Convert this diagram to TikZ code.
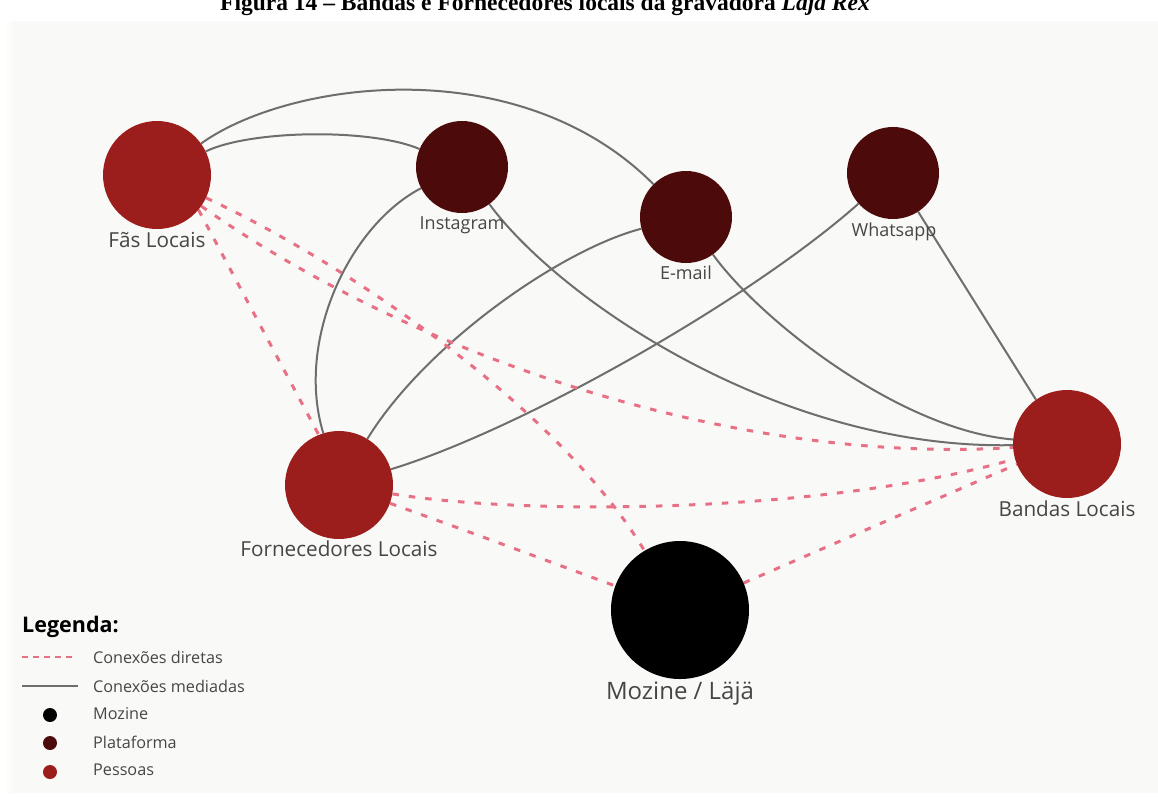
\documentclass[tikz,border=0pt]{standalone}
\usepackage{fontspec}
\setmainfont{Open Sans}
\newfontfamily\titlefont{Liberation Serif}
\definecolor{pessoa}{RGB}{155,30,28}
\definecolor{plataf}{RGB}{77,10,10}
\definecolor{dashpink}{RGB}{232,112,132}
\definecolor{linegrey}{RGB}{110,110,110}
\definecolor{panel}{RGB}{249,249,247}
\definecolor{labelgrey}{RGB}{70,70,70}
\pgfdeclarelayer{bg}
\pgfdeclarelayer{edges}
\pgfsetlayers{bg,edges,main}
\tikzset{
  pnode/.style={circle, fill=pessoa, inner sep=0pt, minimum size=108pt},
  platnode/.style={circle, fill=plataf, inner sep=0pt, minimum size=92pt},
  moznode/.style={circle, fill=black, inner sep=0pt, minimum size=138pt},
  lbl/.style={anchor=base, text=labelgrey, inner sep=0pt, font=\fontsize{20.7}{22}\selectfont},
  plbl/.style={lbl, font=\fontsize{18}{20}\selectfont},
  direct/.style={draw=dashpink, line width=3pt, dash pattern=on 6.5pt off 10pt},
  mediated/.style={draw=linegrey, line width=2pt},
  legtxt/.style={anchor=west, text=labelgrey, inner sep=0pt, font=\fontsize{16.2}{18}\selectfont},
  legdot/.style={circle, inner sep=0pt, minimum size=14pt},
}
\begin{document}
\begin{tikzpicture}[x=1pt,y=-1pt]
\useasboundingbox (0,0) rectangle (1158,796);
\clip (0,0) rectangle (1158,796);
\begin{pgfonlayer}{bg}
  \fill[panel] (10,21) rectangle (1158,793);
  \shade[left color=white, right color=panel] (4,21) rectangle (14,793);
\end{pgfonlayer}

% title (cut at the top)
\node (title) [anchor=base, inner sep=0pt, font=\titlefont\bfseries\fontsize{23.5}{25}\selectfont] at (545,10)
  {Figura 14 – Bandas e Fornecedores locais da gravadora \textit{Läjä Rex}};

% nodes
\node (fas) [pnode] at (157,175) {};
\node (forn) [pnode] at (339,485) {};
\node (bandas) [pnode] at (1067,444) {};
\node (insta) [platnode] at (462,167) {};
\node (email) [platnode] at (686,217) {};
\node (whats) [platnode] at (893,173) {};
\node (moz) [moznode] at (680,610) {};

% labels
\node (fasL) [lbl] at (157,247) {Fãs Locais};
\node (fornL) [lbl] at (339,556) {Fornecedores Locais};
\node (bandasL) [lbl] at (1067,516) {Bandas Locais};
\node (instaL) [plbl] at (462,229) {Instagram};
\node (emailL) [plbl] at (686,279) {E-mail};
\node (whatsL) [plbl] at (894,236) {Whatsapp};
\node (mozL) [lbl, font=\fontsize{24}{26}\selectfont] at (680,699) {Mozine / Läjä};

% edges
\begin{pgfonlayer}{edges}
  % mediated connections
  \draw[mediated] (fas) .. controls (250,130) and (370,128) .. (insta);
  \draw[mediated] (fas) .. controls (290,80) and (520,50) .. (email);
  \draw[mediated] (insta) .. controls (350,225) and (295,340) .. (forn);
  \draw[mediated] (insta) .. controls (560,300) and (780,450) .. (bandas);
  \draw[mediated] (email) .. controls (760,320) and (900,430) .. (bandas);
  \draw[mediated] (email) .. controls (560,250) and (425,345) .. (forn);
  \draw[mediated] (whats) .. controls (750,300) and (520,430) .. (forn);
  \draw[mediated] (whats.-57) -- (bandas.125);
  % direct connections
  \draw[direct] (fas.-40) -- (forn.112);
  \draw[direct] (fas) .. controls (350,265) and (560,410) .. (moz);
  \draw[direct] (fas) .. controls (420,360) and (740,465) .. (bandas);
  \draw[direct] (forn) .. controls (520,515) and (820,515) .. (bandas);
  \draw[direct] (forn) .. controls (470,532) and (540,558) .. (moz);
  \draw[direct] (moz.23) -- (bandas.202);
\end{pgfonlayer}

% legend
\node (legT) [anchor=base west, inner sep=0pt, font=\bfseries\fontsize{21.5}{23}\selectfont] at (22,632) {Legenda:};
\coordinate (ld1) at (22,657);
\coordinate (ld2) at (76,657);
\draw[direct, line width=2.2pt, dash pattern=on 6pt off 5pt] (ld1) -- (ld2);
\node (legD) [legtxt] at (93,657) {Conexões diretas};
\coordinate (lm1) at (22,686);
\coordinate (lm2) at (78,686);
\draw[mediated] (lm1) -- (lm2);
\node (legM) [legtxt] at (93,686) {Conexões mediadas};
\node (dotMoz) [legdot, fill=black] at (50,715) {};
\node (legMoz) [legtxt] at (93,714) {Mozine};
\node (dotPlat) [legdot, fill=plataf] at (50,743) {};
\node (legPlat) [legtxt] at (93,742) {Plataforma};
\node (dotPes) [legdot, fill=pessoa] at (50,772) {};
\node (legPes) [legtxt] at (93,770) {Pessoas};
\end{tikzpicture}
\end{document}
